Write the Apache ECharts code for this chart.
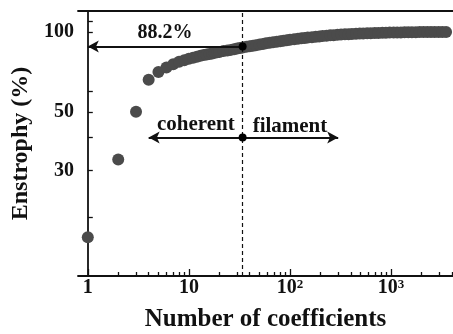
<!DOCTYPE html>
<html><head><meta charset="utf-8">
<script src="https://cdn.jsdelivr.net/npm/echarts@6/dist/echarts.min.js"></script>
<style>html,body{margin:0;padding:0;background:#fff}#c{width:453px;height:334px}</style>
</head><body><div id="c"></div>
<script>
// ---- data ----
const nCoef = [1,2,3,4,5,6,7,8,9,10,11,12,13,14,15,16,17,18,19,20,22,24,26,28,30,32,34,37,40,43,46,50,54,58,63,68,74,80,86,93,100,110,120,130,140,150,165,180,195,210,230,250,270,295,320,350,380,410,450,490,530,580,630,690,750,820,890,970,1060,1150,1250,1360,1480,1610,1760,1920,2090,2280,2480,2700,2950,3210,3500];
const enstrophy = [16.8,33,50,66,70.6,73.5,75.6,77.2,78.3,79.2,80.0,80.7,81.3,81.8,82.2,82.6,83.0,83.4,83.8,84.1,84.7,85.2,85.6,86.1,86.6,87.0,87.4,87.9,88.3,88.7,89.2,89.7,90.1,90.6,91.0,91.4,91.9,92.3,92.7,93.1,93.4,93.9,94.3,94.6,95.0,95.3,95.6,95.9,96.2,96.5,96.8,97.1,97.3,97.6,97.8,98.0,98.1,98.3,98.5,98.6,98.7,98.9,99.0,99.1,99.2,99.3,99.4,99.5,99.5,99.6,99.6,99.7,99.7,99.8,99.8,99.9,99.9,99.9,100,100,100,100,100];

const xMajorTicks = [1, 10, 100, 1000];
const xTickLabels = ['1', '10', '10^2', '10^3'];
const xMinorTicks = [2,3,4,5,6,7,8,9,20,30,40,50,60,70,80,90,200,300,400,500,600,700,800,900,2000,3000,4000];
const xRange = [0.8, 4100];
const yTicks = [20, 30, 40, 50, 60, 100, 110];
const yTickLabels = [30, 50, 100];
const yRange = [12, 120];

// annotations
const splitN = 34;            // dashed line / split position
const splitPct = 88.2;        // enstrophy captured
const pctLabel = '88.2%';
const arrowLeftEnd = 1;       // 88.2% arrow end (x)
const regimeY = 40;           // y of coherent/filament arrows
const coherentEnd = 4;
const filamentEnd = 300;
const textPos = { pct: [5.8, 99.1], coherent: [11.7, 44.6], filament: [100, 44.1] };

const L = Math.log10;
const FONT = 'Liberation Serif, Times New Roman, serif';

function labelIdx(v, arr) {
  let best = 0, bd = 1e9;
  arr.forEach((a, i) => { const d = Math.abs(L(a) - v); if (d < bd) { bd = d; best = i; } });
  return best;
}

const chart = echarts.init(document.getElementById('c'), null, {renderer: 'canvas'});
const axisLineStyle = {color: '#111', width: 1.8};
const xBase = {
  type: 'value', min: L(xRange[0]), max: L(xRange[1]), splitLine: {show: false},
};
const option = {
  animation: false,
  backgroundColor: '#fff',
  grid: {left: 78, right: 0, top: 11, bottom: 58, outerBoundsMode: 'none', containLabel: false},
  xAxis: [
    Object.assign({}, xBase, {
      position: 'bottom',
      axisLine: {show: true, lineStyle: axisLineStyle},
      axisTick: {show: true, inside: true, length: 7, lineStyle: {color: '#111', width: 1.3}, customValues: xMajorTicks.map(L)},
      axisLabel: {
        show: true, margin: 2, customValues: xMajorTicks.map(L),
        formatter: v => {
          const s = xTickLabels[labelIdx(v, xMajorTicks)];
          if (s.indexOf('^') >= 0) { const p = s.split('^'); return '{b|' + p[0] + '}{s|' + p[1] + '}'; }
          return '{b|' + s + '}';
        },
        rich: {
          b: {fontFamily: FONT, fontWeight: 'bold', fontSize: 20, color: '#111'},
          s: {fontFamily: FONT, fontWeight: 'bold', fontSize: 13, color: '#111', verticalAlign: 'top'}
        }
      },
      name: 'Number of coefficients', nameLocation: 'middle', nameGap: 31,
      nameTextStyle: {fontFamily: FONT, fontWeight: 'bold', fontSize: 25, color: '#111'}
    }),
    Object.assign({}, xBase, {
      position: 'bottom',
      axisLine: {show: false},
      axisTick: {show: true, inside: true, length: 4, lineStyle: {color: '#111', width: 1.3}, customValues: xMinorTicks.map(L)},
      axisLabel: {show: false}
    }),
    Object.assign({}, xBase, {
      position: 'top',
      axisLine: {show: true, lineStyle: axisLineStyle},
      axisTick: {show: false}, axisLabel: {show: false}
    })
  ],
  yAxis: [{
    type: 'value', min: L(yRange[0]), max: L(yRange[1]), position: 'left',
    splitLine: {show: false},
    axisLine: {show: true, lineStyle: axisLineStyle},
    axisTick: {show: true, inside: true, length: 5, lineStyle: {color: '#111', width: 1.3}, customValues: yTicks.map(L)},
    axisLabel: {
      show: true, margin: 4, customValues: yTickLabels.map(L),
      formatter: v => String(yTickLabels[labelIdx(v, yTickLabels)]),
      fontFamily: FONT, fontWeight: 'bold', fontSize: 20, color: '#111'
    },
    name: 'Enstrophy (%)', nameLocation: 'middle', nameGap: 45, nameRotate: 90,
    nameTextStyle: {fontFamily: FONT, fontWeight: 'bold', fontSize: 24, color: '#111'}
  }],
  series: [{
    type: 'scatter', xAxisIndex: 0, yAxisIndex: 0, silent: true,
    symbol: 'circle', symbolSize: 12,
    itemStyle: {color: '#4b4b4b', opacity: 1},
    data: nCoef.map((n, i) => [L(n), L(enstrophy[i])]),
    markLine: {
      silent: true, animation: false, symbol: ['none', 'none'],
      label: {show: false},
      data: [
        [{coord: [L(splitN), L(splitPct)], symbol: 'none'},
         {coord: [L(arrowLeftEnd), L(splitPct)], symbol: 'arrow', symbolSize: [9, 11]}],
        [{coord: [L(splitN), L(regimeY)], symbol: 'none'},
         {coord: [L(coherentEnd), L(regimeY)], symbol: 'arrow', symbolSize: [9, 11]}],
        [{coord: [L(splitN), L(regimeY)], symbol: 'none'},
         {coord: [L(filamentEnd), L(regimeY)], symbol: 'arrow', symbolSize: [9, 11]}],
        {xAxis: L(splitN), symbol: 'none', lineStyle: {type: [4, 3], width: 1.2, color: '#111'}}
      ],
      lineStyle: {color: '#111', width: 1.8, type: 'solid'}
    },
    markPoint: {
      silent: true, animation: false,
      data: [
        {coord: [L(splitN), L(splitPct)], symbol: 'circle', symbolSize: 8, itemStyle: {color: '#000'}, label: {show: false}},
        {coord: [L(splitN), L(regimeY)], symbol: 'circle', symbolSize: 8, itemStyle: {color: '#000'}, label: {show: false}},
        {coord: [L(textPos.pct[0]), L(textPos.pct[1])], symbol: 'circle', symbolSize: 1, itemStyle: {color: 'rgba(0,0,0,0)'},
         label: {show: true, position: 'inside', formatter: pctLabel, fontFamily: FONT, fontWeight: 'bold', fontSize: 20, color: '#111'}},
        {coord: [L(textPos.coherent[0]), L(textPos.coherent[1])], symbol: 'circle', symbolSize: 1, itemStyle: {color: 'rgba(0,0,0,0)'},
         label: {show: true, position: 'inside', formatter: 'coherent', fontFamily: FONT, fontWeight: 'bold', fontSize: 21, color: '#111'}},
        {coord: [L(textPos.filament[0]), L(textPos.filament[1])], symbol: 'circle', symbolSize: 1, itemStyle: {color: 'rgba(0,0,0,0)'},
         label: {show: true, position: 'inside', formatter: 'filament', fontFamily: FONT, fontWeight: 'bold', fontSize: 21, color: '#111'}}
      ]
    }
  }]
};
chart.setOption(option);
</script></body></html>
